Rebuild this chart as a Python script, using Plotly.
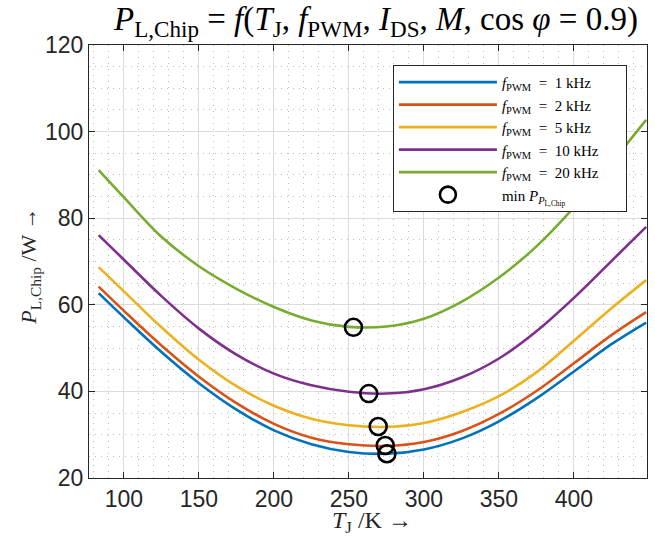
import plotly.graph_objects as go

# Junction temperature samples (K)
T_K = [83.15, 100, 125, 150, 175, 200, 225, 250, 275, 300, 325, 350, 375, 400, 425, 448.15]

# Chip losses (W) for each PWM frequency
P_1k = [62.7, 57.1, 49.1, 41.9, 35.8, 31.0, 27.8, 26.0, 25.6, 26.6, 29.1, 33.1, 38.4, 44.6, 50.9, 55.9]
P_2k = [64.2, 58.6, 50.6, 43.4, 37.3, 32.5, 29.3, 27.8, 27.4, 28.3, 30.8, 34.8, 40.1, 46.5, 53.0, 58.3]
P_5k = [68.7, 63.1, 54.8, 47.3, 41.2, 36.7, 33.7, 32.2, 31.8, 32.7, 35.2, 38.9, 44.4, 51.7, 59.2, 65.7]
P_10k = [76.1, 70.4, 62.0, 54.5, 48.5, 44.1, 41.4, 39.9, 39.5, 40.5, 43.2, 47.6, 53.9, 61.6, 70.1, 78.0]
P_20k = [91.1, 84.8, 75.7, 68.9, 63.7, 59.5, 56.4, 54.9, 55.0, 56.8, 60.7, 66.3, 73.5, 82.5, 92.8, 102.7]

freq_labels = ["1", "2", "5", "10", "20"]
series = [P_1k, P_2k, P_5k, P_10k, P_20k]
colors = ["#0072BD", "#D95319", "#EDB120", "#7E2F8E", "#77AC30"]

# Minimum-loss points
min_T = [275.3, 274.2, 269.5, 263.2, 253.0]
min_P = [25.6, 27.5, 31.9, 39.5, 54.8]

x_ticks = [100, 150, 200, 250, 300, 350, 400]
y_ticks = [20, 40, 60, 80, 100, 120]

SERIF = "Liberation Serif"
SANS = "Liberation Sans"
AX = "#262626"
NB = "\u00a0"
PAD = NB * 6

fig = go.Figure()
for f, p, c in zip(freq_labels, series, colors):
    fig.add_trace(go.Scatter(
        x=T_K, y=p, mode="lines",
        line=dict(color=c, width=2.6, shape="spline", smoothing=1.0),
        name="<i>f</i><sub>PWM</sub>" + NB * 2 + "=" + NB * 2 + f + NB + "kHz" + PAD,
    ))
fig.add_trace(go.Scatter(
    x=min_T, y=min_P, mode="markers",
    marker=dict(symbol="circle-open", size=17, color="black", line=dict(width=2.6, color="black")),
    name="min" + NB + "<i>P</i><sub><i>P</i><sub>L,Chip</sub></sub>",
))

axis_common = dict(
    showline=True, linecolor=AX, linewidth=1, mirror="ticks",
    ticks="inside", ticklen=6, tickwidth=1, tickcolor=AX,
    showgrid=True, gridcolor="#DCDCDC", gridwidth=1,
    tickfont=dict(family=SANS, size=23, color=AX),
    zeroline=False,
)

fig.update_xaxes(
    range=[76.7, 448.7], tickvals=x_ticks,
    minor=dict(dtick=10, tick0=0, showgrid=True, gridcolor="#BDBDBD", griddash="1px,5px", gridwidth=1),
    **axis_common,
)
fig.update_yaxes(
    range=[20, 120], tickvals=y_ticks,
    minor=dict(dtick=5, tick0=0, showgrid=True, gridcolor="#BDBDBD", griddash="1px,5px", gridwidth=1),
    **axis_common,
)

title_txt = ("<i>P</i><sub>L,Chip</sub>" + NB + "=" + NB + "<i>f</i>(<i>T</i><sub>J</sub>," + NB +
             "<i>f</i><sub>PWM</sub>," + NB + "<i>I</i><sub>DS</sub>," + NB + "<i>M</i>," + NB +
             "cos" + NB + "<i>φ</i>" + NB + "=" + NB + "0.9)")

fig.update_layout(
    width=655, height=538,
    margin=dict(l=89, r=8, t=45, b=60),
    paper_bgcolor="white", plot_bgcolor="white",
    showlegend=True,
    legend=dict(
        x=0.964, y=0.954, xanchor="right", yanchor="top",
        bgcolor="white", bordercolor=AX, borderwidth=1,
        font=dict(family=SERIF, size=15, color="black"),
        itemwidth=98, tracegroupgap=0,
    ),
    annotations=[
        dict(text=title_txt,
             xref="paper", yref="paper", x=0.514, y=1.055, xanchor="center", yanchor="middle",
             showarrow=False, font=dict(family=SERIF, size=33, color="black")),
        dict(text="<i>T</i><sub>J</sub> /K →",
             xref="paper", yref="paper", x=0.507, y=-0.102, xanchor="center", yanchor="middle",
             showarrow=False, font=dict(family=SERIF, size=24, color=AX)),
        dict(text="<i>P</i><sub>L,Chip</sub> /W →",
             xref="paper", yref="paper", x=-0.106, y=0.49, xanchor="center", yanchor="middle",
             textangle=-90, showarrow=False, font=dict(family=SERIF, size=22, color=AX)),
    ],
)

fig.write_html("out.html")
